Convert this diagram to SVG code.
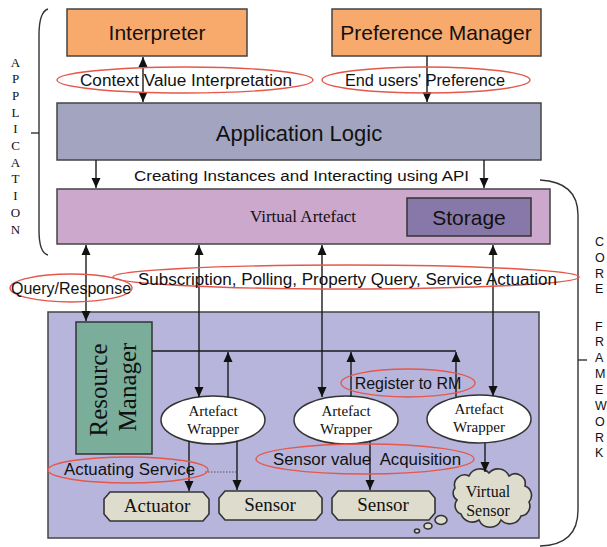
<svg xmlns="http://www.w3.org/2000/svg" width="607" height="547" viewBox="0 0 607 547">
<style>
.sans{font-family:"Liberation Sans",Arial,sans-serif;fill:#111}
.serif{font-family:"Liberation Serif","Times New Roman",serif;fill:#111}
.box{stroke:#444;stroke-width:1.5}
.hl{fill:none;stroke:#E5574A;stroke-width:1.4}
.ln{fill:none;stroke:#1a1a1a;stroke-width:1.4}
.dev{fill:#DEDCCC;stroke:#333;stroke-width:1.6}
.wr{fill:#fff;stroke:#333;stroke-width:1.5}
.br{fill:none;stroke:#333;stroke-width:1.4}
</style>
<defs>
<marker id="ah" viewBox="0 0 10 10" refX="10" refY="5" markerWidth="10" markerHeight="10" markerUnits="userSpaceOnUse" orient="auto-start-reverse">
<path d="M0,0.5 L10,5 L0,9.5 Z" fill="#111"/>
</marker>
</defs>
<rect width="607" height="547" fill="#fff"/>

<!-- brackets and side labels -->
<g id="application-bracket">
<path class="br" d="M48 9 Q39 12 39 35 L39 230 Q39 253 48 255"/>
<line class="br" x1="31" y1="133" x2="39" y2="133"/>
<text class="serif" font-size="13" text-anchor="middle">
<tspan x="15.5" y="66.5">A</tspan><tspan x="15.5" y="83">P</tspan><tspan x="15.5" y="100">P</tspan><tspan x="15.5" y="116.5">L</tspan><tspan x="15.5" y="133">I</tspan><tspan x="15.5" y="150">C</tspan><tspan x="15.5" y="166.5">A</tspan><tspan x="15.5" y="183">T</tspan><tspan x="15.5" y="200">I</tspan><tspan x="15.5" y="216.5">O</tspan><tspan x="15.5" y="233.5">N</tspan>
</text>
</g>
<g id="core-framework-bracket">
<path class="br" d="M540 180 Q578 182 578 215 L578 510 Q578 545 540 546"/>
<line class="br" x1="578" y1="360" x2="587" y2="360"/>
<text class="sans" font-size="12.5">
<tspan x="595" y="245.5">C</tspan><tspan x="595" y="261.5">O</tspan><tspan x="595" y="278">R</tspan><tspan x="595" y="293">E</tspan>
<tspan x="595" y="330.5">F</tspan><tspan x="595" y="346">R</tspan><tspan x="595" y="362">A</tspan><tspan x="595" y="378">M</tspan><tspan x="595" y="394">E</tspan><tspan x="595" y="410">W</tspan><tspan x="595" y="425.5">O</tspan><tspan x="595" y="441.5">R</tspan><tspan x="595" y="457">K</tspan>
</text>
</g>

<!-- top layer -->
<g id="interpreter">
<rect class="box" x="67" y="9" width="180" height="47" fill="#F8AA6D"/>
<text class="sans" font-size="21" x="157" y="40" text-anchor="middle">Interpreter</text>
</g>
<g id="preference-manager">
<rect class="box" x="332" y="9" width="209" height="47" fill="#F8AA6D"/>
<text class="sans" font-size="21" x="436" y="40" text-anchor="middle">Preference Manager</text>
</g>
<g id="application-logic">
<rect class="box" x="57" y="103" width="484" height="57" fill="#A3A4BF"/>
<text class="sans" font-size="22" x="299" y="141" text-anchor="middle">Application Logic</text>
</g>
<g id="virtual-artefact">
<rect class="box" x="57" y="189" width="493" height="55" fill="#CCA8CC"/>
<text class="serif" font-size="17" x="303" y="222" text-anchor="middle">Virtual Artefact</text>
</g>
<g id="storage">
<rect x="407" y="198" width="124" height="38" fill="#8878A9" stroke="#333" stroke-width="1.5"/>
<text class="sans" font-size="21" x="469" y="225" text-anchor="middle">Storage</text>
</g>

<!-- core framework -->
<g id="core-framework">
<rect class="box" x="48" y="312" width="491" height="226" fill="#B8B5DD"/>
</g>
<g id="resource-manager">
<rect x="76" y="322" width="76" height="132" fill="#7AAE9A" stroke="#333" stroke-width="1.5"/>
<text class="serif" font-size="25" text-anchor="middle" transform="translate(107,390) rotate(-90)">Resource</text>
<text class="serif" font-size="25" text-anchor="middle" transform="translate(136,387) rotate(-90)">Manager</text>
</g>
<g id="artefact-wrapper-1">
<ellipse class="wr" cx="213" cy="420" rx="52" ry="24"/>
<text class="serif" font-size="15" text-anchor="middle"><tspan x="213" y="416">Artefact</tspan><tspan x="213" y="434">Wrapper</tspan></text>
</g>
<g id="artefact-wrapper-2">
<ellipse class="wr" cx="346" cy="420" rx="52" ry="24"/>
<text class="serif" font-size="15" text-anchor="middle"><tspan x="346" y="416">Artefact</tspan><tspan x="346" y="434">Wrapper</tspan></text>
</g>
<g id="artefact-wrapper-3">
<ellipse class="wr" cx="479" cy="419" rx="52" ry="24"/>
<text class="serif" font-size="15" text-anchor="middle"><tspan x="479" y="414">Artefact</tspan><tspan x="479" y="432">Wrapper</tspan></text>
</g>
<g id="actuator">
<path class="dev" d="M110 492 H203 L209 499 V514 L203 521 H110 L104 514 V499 Z"/>
<text class="serif" font-size="19" x="157" y="512" text-anchor="middle">Actuator</text>
</g>
<g id="sensor-1">
<path class="dev" d="M225 491 H316 L322 498 V513 L316 520 H225 L219 513 V498 Z"/>
<text class="serif" font-size="19" x="270" y="511" text-anchor="middle">Sensor</text>
</g>
<g id="sensor-2">
<path class="dev" d="M338 491 H429 L435 498 V513 L429 520 H338 L332 513 V498 Z"/>
<text class="serif" font-size="19" x="383" y="511" text-anchor="middle">Sensor</text>
</g>
<g id="virtual-sensor">
<path class="dev" d="M455 488 A10 10 0 0 1 469 476 A12 12 0 0 1 489 473 A12 12 0 0 1 509 476 A10 10 0 0 1 525 486 A10 10 0 0 1 529 502 A10 10 0 0 1 521 516 A12 12 0 0 1 501 520 A12 12 0 0 1 479 520 A12 12 0 0 1 461 514 A9 9 0 0 1 457 500 A8 8 0 0 1 455 488 Z"/>
<ellipse class="dev" cx="441" cy="520" rx="6" ry="4.5"/>
<ellipse class="dev" cx="428" cy="526" rx="4" ry="3"/>
<ellipse class="dev" cx="417" cy="531" rx="2.5" ry="2"/>
<text class="serif" font-size="16" text-anchor="middle"><tspan x="488" y="497">Virtual</tspan><tspan x="488" y="516">Sensor</tspan></text>
</g>

<!-- connectors -->
<g id="connectors">
<line class="ln" x1="143" y1="57" x2="143" y2="102" marker-start="url(#ah)" marker-end="url(#ah)"/>
<line class="ln" x1="427" y1="56" x2="427" y2="102" marker-end="url(#ah)"/>
<line class="ln" x1="96" y1="160" x2="96" y2="188" marker-end="url(#ah)"/>
<line class="ln" x1="484" y1="160" x2="484" y2="188" marker-end="url(#ah)"/>
<line class="ln" x1="86" y1="245" x2="86" y2="321" marker-start="url(#ah)" marker-end="url(#ah)"/>
<line class="ln" x1="199" y1="245" x2="199" y2="397" marker-start="url(#ah)" marker-end="url(#ah)"/>
<line class="ln" x1="322" y1="245" x2="322" y2="397" marker-start="url(#ah)" marker-end="url(#ah)"/>
<line class="ln" x1="493" y1="245" x2="493" y2="396" marker-start="url(#ah)" marker-end="url(#ah)"/>
<polyline class="ln" points="152,351 456,351"/>
<line class="ln" x1="228" y1="397" x2="228" y2="352" marker-end="url(#ah)"/>
<line class="ln" x1="351" y1="396" x2="351" y2="352" marker-end="url(#ah)"/>
<line class="ln" x1="456" y1="397" x2="456" y2="352" marker-end="url(#ah)"/>
<line class="ln" x1="189" y1="441" x2="189" y2="491" marker-end="url(#ah)"/>
<line class="ln" x1="237" y1="441" x2="237" y2="490" marker-end="url(#ah)"/>
<line class="ln" x1="370" y1="441" x2="370" y2="490" marker-end="url(#ah)"/>
<line class="ln" x1="485" y1="443" x2="485" y2="472" marker-end="url(#ah)"/>
<line x1="205" y1="472" x2="237" y2="472" stroke="#555" stroke-width="1" stroke-dasharray="1.5 1.5"/>
</g>

<!-- highlighted labels -->
<g id="label-context-value">
<ellipse class="hl" cx="185" cy="80" rx="128" ry="13"/>
<text class="sans" font-size="16" x="80" y="86" textLength="212" lengthAdjust="spacingAndGlyphs">Context Value Interpretation</text>
</g>
<g id="label-end-users">
<ellipse class="hl" cx="426" cy="80" rx="104" ry="13"/>
<text class="sans" font-size="16" x="345" y="86" textLength="160" lengthAdjust="spacingAndGlyphs">End users' Preference</text>
</g>
<g id="label-creating">
<text class="sans" font-size="15.5" x="134" y="181" textLength="335" lengthAdjust="spacingAndGlyphs">Creating Instances and Interacting using API</text>
</g>
<g id="label-query-response">
<ellipse class="hl" cx="71" cy="288" rx="61" ry="14"/>
<text class="sans" font-size="16" x="71" y="294" text-anchor="middle">Query/Response</text>
</g>
<g id="label-subscription">
<ellipse class="hl" cx="346" cy="277" rx="233" ry="12"/>
<text class="sans" font-size="16" x="138" y="285" textLength="419" lengthAdjust="spacingAndGlyphs">Subscription, Polling, Property Query, Service Actuation</text>
</g>
<g id="label-register">
<ellipse class="hl" cx="408" cy="383" rx="67" ry="14"/>
<text class="sans" font-size="16" x="408" y="389" text-anchor="middle">Register to RM</text>
</g>
<g id="label-actuating">
<ellipse class="hl" cx="128" cy="470" rx="80" ry="13"/>
<text class="sans" font-size="16" x="64" y="475" textLength="131" lengthAdjust="spacingAndGlyphs">Actuating Service</text>
</g>
<g id="label-sensor-value">
<ellipse class="hl" cx="365" cy="459" rx="109" ry="15"/>
<text class="sans" font-size="16" x="273" y="465" textLength="188" lengthAdjust="spacingAndGlyphs" xml:space="preserve">Sensor value  Acquisition</text>
</g>
</svg>
